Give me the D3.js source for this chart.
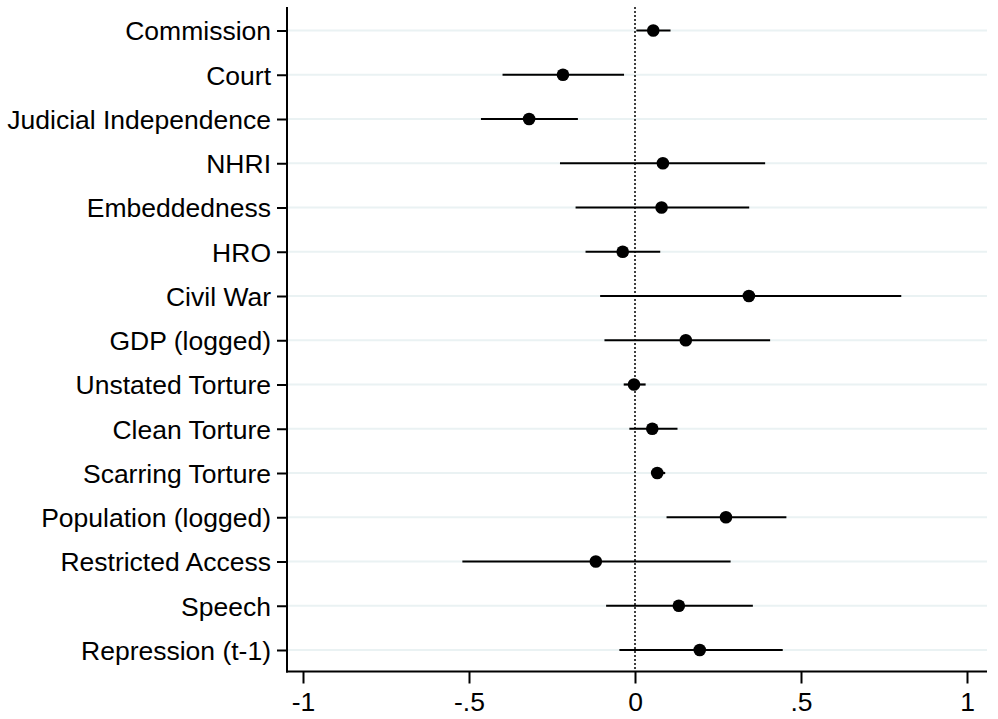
<!DOCTYPE html>
<html>
<head>
<meta charset="utf-8">
<script src="https://cdn.jsdelivr.net/npm/d3@7"></script>
<style>
  html, body { margin: 0; padding: 0; background: #fff; }
  svg { display: block; }
</style>
</head>
<body>
<div id="chart"></div>
<script>
// coefficient estimates with 95% intervals, top to bottom
const labels = ["Commission", "Court", "Judicial Independence", "NHRI", "Embeddedness", "HRO",
  "Civil War", "GDP (logged)", "Unstated Torture", "Clean Torture", "Scarring Torture",
  "Population (logged)", "Restricted Access", "Speech", "Repression (t-1)"];
const estimates = [0.055, -0.217, -0.319, 0.084, 0.080, -0.037, 0.343, 0.153, -0.003, 0.052, 0.067, 0.274, -0.118, 0.132, 0.195];
const lower = [0.004, -0.399, -0.464, -0.226, -0.179, -0.149, -0.105, -0.092, -0.034, -0.017, 0.048, 0.095, -0.520, -0.087, -0.047];
const upper = [0.107, -0.033, -0.172, 0.392, 0.344, 0.076, 0.802, 0.407, 0.032, 0.128, 0.091, 0.456, 0.288, 0.355, 0.445];
const xTicks = [-1, -0.5, 0, 0.5, 1];
const xTickLabels = ["-1", "-.5", "0", ".5", "1"];

const width = 998, height = 719;
const fontSize = 26.5;

const data = labels.map((name, i) => ({ name, est: estimates[i], lo: lower[i], hi: upper[i] }));

const x = d3.scaleLinear().domain([-1, 1]).range([303, 967]);
const y = d3.scalePoint().domain(labels).range([30.5, 650]);

const axisLeftX = 287, axisBottomY = 671.5, plotRight = 987, plotTop = 7;

const svg = d3.select("#chart").append("svg")
  .attr("width", width)
  .attr("height", height)
  .attr("viewBox", `0 0 ${width} ${height}`)
  .style("font-family", "Arial, 'Liberation Sans', sans-serif");

// horizontal grid lines
svg.append("g")
  .selectAll("line")
  .data(labels)
  .join("line")
    .attr("x1", axisLeftX)
    .attr("x2", plotRight)
    .attr("y1", d => y(d))
    .attr("y2", d => y(d))
    .attr("stroke", "#eaf2f3")
    .attr("stroke-width", 2);

// reference line at zero
svg.append("line")
  .attr("x1", x(0)).attr("x2", x(0))
  .attr("y1", plotTop).attr("y2", axisBottomY)
  .attr("stroke", "#000")
  .attr("stroke-width", 1.5)
  .attr("stroke-dasharray", "2,2");

// y axis
const yAxis = d3.axisLeft(y).tickSize(10).tickPadding(6);
svg.append("g")
  .attr("transform", `translate(${axisLeftX},0)`)
  .call(yAxis)
  .call(g => g.select(".domain").remove())
  .call(g => g.selectAll(".tick line").attr("stroke", "#000").attr("stroke-width", 2))
  .call(g => g.selectAll(".tick text")
    .attr("font-size", fontSize)
    .attr("font-family", "Arial, 'Liberation Sans', sans-serif")
    .attr("fill", "#000")
    .attr("dy", "0.35em"));

svg.append("line")
  .attr("x1", axisLeftX).attr("x2", axisLeftX)
  .attr("y1", plotTop).attr("y2", axisBottomY + 1)
  .attr("stroke", "#000").attr("stroke-width", 2);

// x axis
const xAxis = d3.axisBottom(x)
  .tickValues(xTicks)
  .tickSize(12)
  .tickPadding(9)
  .tickFormat((d, i) => xTickLabels[i]);
svg.append("g")
  .attr("transform", `translate(0,${axisBottomY})`)
  .call(xAxis)
  .call(g => g.select(".domain").remove())
  .call(g => g.selectAll(".tick line").attr("stroke", "#000").attr("stroke-width", 2))
  .call(g => g.selectAll(".tick text")
    .attr("font-size", fontSize)
    .attr("font-family", "Arial, 'Liberation Sans', sans-serif")
    .attr("fill", "#000"));

svg.append("line")
  .attr("x1", axisLeftX - 1).attr("x2", plotRight)
  .attr("y1", axisBottomY).attr("y2", axisBottomY)
  .attr("stroke", "#000").attr("stroke-width", 2);

// confidence intervals
svg.append("g")
  .selectAll("line")
  .data(data)
  .join("line")
    .attr("x1", d => x(d.lo))
    .attr("x2", d => x(d.hi))
    .attr("y1", d => y(d.name))
    .attr("y2", d => y(d.name))
    .attr("stroke", "#000")
    .attr("stroke-width", 2.2);

// point estimates
svg.append("g")
  .selectAll("circle")
  .data(data)
  .join("circle")
    .attr("cx", d => x(d.est))
    .attr("cy", d => y(d.name))
    .attr("r", 6.3)
    .attr("fill", "#000");
</script>
</body>
</html>
